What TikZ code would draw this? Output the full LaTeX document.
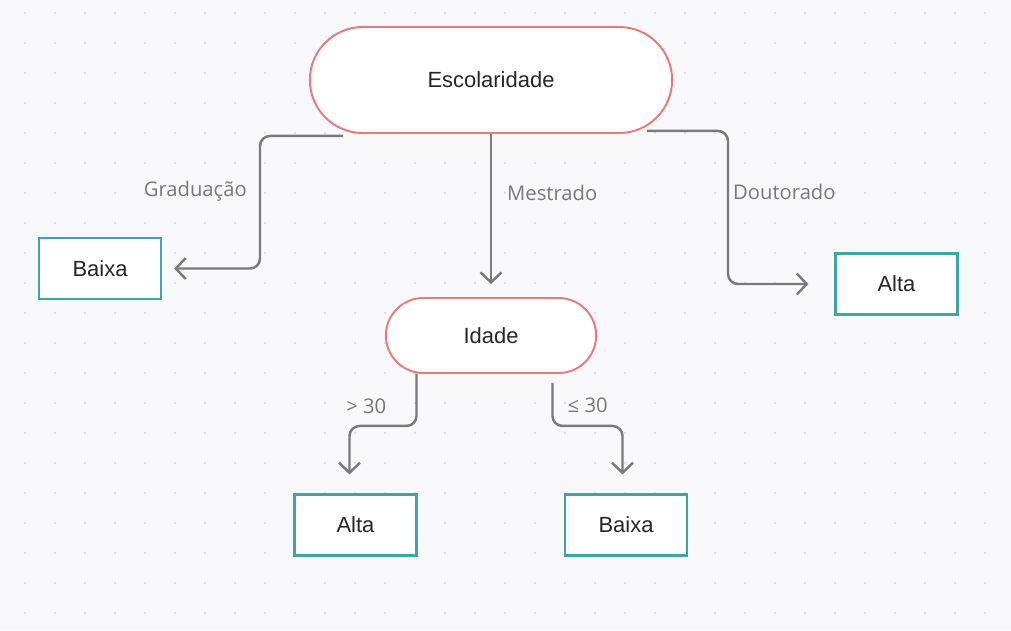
\documentclass[tikz,border=0pt]{standalone}
\usepackage{fontspec}
\setmainfont{Liberation Sans}
\newfontfamily\labelfont{Open Sans}
\usepackage{tikz}
\usetikzlibrary{shapes.misc, arrows.meta, positioning}
\definecolor{salmon}{RGB}{232, 122, 122}
\definecolor{tealbox}{RGB}{58, 168, 158}
\definecolor{lineGrey}{RGB}{122, 122, 122}
\definecolor{labelGrey}{RGB}{120, 120, 120}
\definecolor{bgGrey}{RGB}{248, 248, 250}
\definecolor{dotGrey}{RGB}{214, 214, 218}
\tikzstyle{decisionNode} = [rounded rectangle, draw=salmon, line width=1.1pt, fill=white, text=black!85, font=\fontsize{12.5}{14}\selectfont]
\tikzstyle{leafNode} = [rectangle, draw=tealbox, line width=1.2pt, fill=white, minimum width=2.44cm, minimum height=1.22cm, text=black!85, font=\fontsize{12.5}{14}\selectfont]
\tikzstyle{edgeLabel} = [inner sep=0pt, text=labelGrey, font=\labelfont\fontsize{11.5}{13}\selectfont]
\tikzstyle{arrow} = [draw=lineGrey, line width=1.4pt, rounded corners=0.2cm, -{Straight Barb[length=0.2cm, width=0.42cm]}]

\begin{document}
\begin{tikzpicture}[node distance=2cm]
    % background with dot grid
    \useasboundingbox (0,0) rectangle (20.22,-12.6);
    \fill[bgGrey] (0,0) rectangle (20.22,-12.6);
    \foreach \i in {0,...,32}
        \foreach \j in {0,...,20}
            \fill[dotGrey] ({0.5+0.6*\i},{-0.26-0.6*\j}) circle (0.022);

    % Root
    \node (escolaridade) [decisionNode, minimum width=7.48cm, minimum height=2.12cm] at (9.82,-1.6) {Escolaridade};
    % Idade
    \node (idade) [decisionNode, below of=escolaridade, minimum width=4.44cm, minimum height=1.5cm, yshift=-3.11cm] {Idade};
    % Leaves of escolaridade
    \node (baixaGrad) [leafNode, below of=escolaridade, xshift=-7.82cm, yshift=-1.77cm] {Baixa};
    \node (altaDout) [leafNode, below of=escolaridade, xshift=8.11cm, yshift=-2.08cm] {Alta};
    % Leaves of idade
    \node (altaIdade) [leafNode, below of=idade, xshift=-2.71cm, yshift=-1.79cm] {Alta};
    \node (baixaIdade) [leafNode, below of=idade, xshift=2.7cm, yshift=-1.79cm] {Baixa};

    \draw [arrow, shorten >=0.24cm] ([xshift=-2.96cm, yshift=-0.04cm]escolaridade.south) -- ++(-1.66,0) |- node[edgeLabel, left=0.24cm, pos=0.21] (gradLabel) {Graduação} (baixaGrad.east);
    \draw [arrow, shorten >=0.26cm] (escolaridade.south) -- node[edgeLabel, right=0.3cm, pos=0.36] (mestLabel) {Mestrado} (idade.north);
    \draw [arrow, shorten >=0.52cm] ([xshift=3.12cm, yshift=0.06cm]escolaridade.south) -- ++(1.62,0) |- node[edgeLabel, right=0.08cm, pos=0.2] (doutLabel) {Doutorado} (altaDout.west);
    %
    \draw [arrow, shorten >=0.38cm] ([xshift=-1.49cm]idade.south) -- node[edgeLabel, left=0.58cm, pos=0.62] (maiorLabel) {> 30} ++(0,-1.04) -| ([xshift=-0.12cm]altaIdade.north);
    \draw [arrow, shorten >=0.38cm] ([xshift=1.23cm, yshift=-0.18cm]idade.south) -- node[edgeLabel, right=0.28cm, pos=0.53] (menorLabel) {≤ 30} ++(0,-0.86) -| ([xshift=-0.07cm]baixaIdade.north);

\end{tikzpicture}
\end{document}
